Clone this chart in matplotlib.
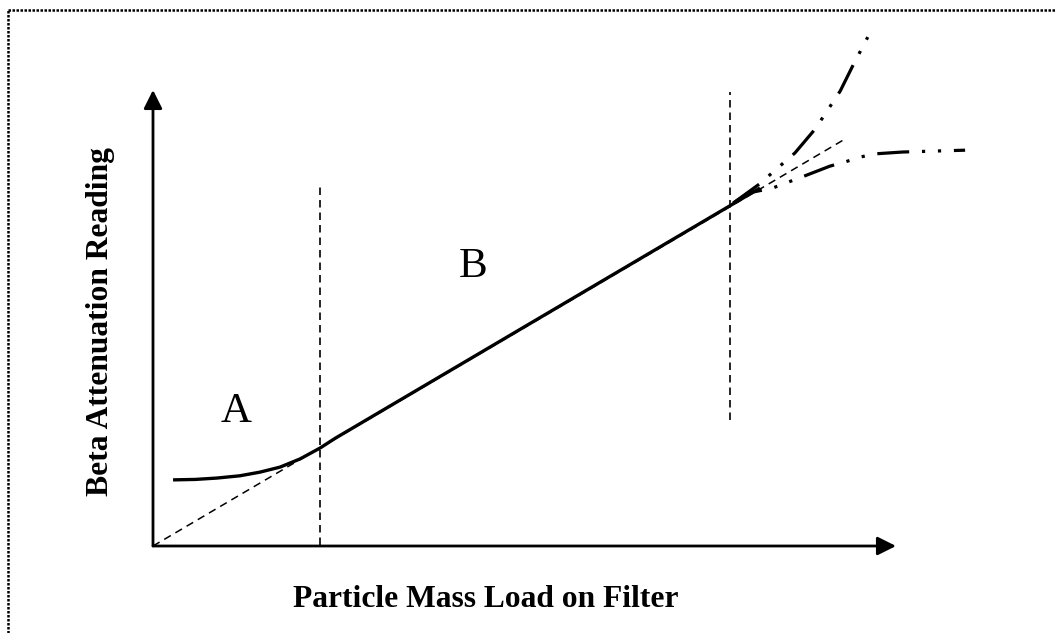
import matplotlib
matplotlib.use("Agg")
import matplotlib.pyplot as plt
from matplotlib.lines import Line2D

plt.rcParams['font.family'] = ['Liberation Serif', 'DejaVu Serif']

# schematic data (arbitrary units: x = mass load, y = beta reading)
ideal_x = [0.0, 9.34]
ideal_y = [0.0, 8.95]

meas_x = [0.27, 0.57, 0.86, 1.17, 1.44, 1.71, 1.98, 2.25, 2.45, 8.17]
meas_y = [1.45, 1.46, 1.49, 1.54, 1.62, 1.73, 1.91, 2.15, 2.36, 7.85]

up_x = [7.81, 8.18, 8.33, 8.64, 8.91, 9.02, 9.25, 9.43, 9.62]
up_y = [7.52, 7.96, 8.18, 8.62, 9.14, 9.41, 9.98, 10.57, 11.16]

low_x = [7.81, 8.01, 8.34, 8.55, 8.73, 9.11, 9.31, 9.52, 9.72, 10.09, 10.50, 10.93]
low_y = [7.52, 7.74, 7.85, 7.98, 8.09, 8.33, 8.42, 8.53, 8.60, 8.64, 8.66, 8.68]

bound_x = [2.25, 7.77]
bound_lo = [0.02, 2.76]
bound_hi = [7.92, 9.96]

region_lbl = ['A', 'B']
region_x = [1.12, 4.31]
region_y = [2.72, 5.90]

W, H = 1056, 633
fig = plt.figure(figsize=(W / 100, H / 100), dpi=100)
# origin at pixel (153, 546), x tip at 896, y tip at 90
ax = fig.add_axes([153 / W, (H - 546) / H, (896 - 153) / W, (546 - 90) / H])
ax.set_xlim(0, 10)
ax.set_ylim(0, 10)
ax.axis('off')

# axes arrows
arr = dict(arrowstyle='-|>', color='black', lw=2, mutation_scale=28, shrinkA=0, shrinkB=0)
ax.annotate('', xy=(10, 0), xytext=(0, 0), arrowprops=arr, annotation_clip=False)
ax.annotate('', xy=(0, 10), xytext=(0, 0), arrowprops=arr, annotation_clip=False)

ax.plot(ideal_x, ideal_y, color='black', lw=1.1, linestyle=(0, (5, 3.5)), clip_on=False)
ax.plot(meas_x, meas_y, color='black', lw=2.4, solid_capstyle='butt',
        solid_joinstyle='round', clip_on=False)

ddd = (0, (10, 4, 1, 4, 1, 4))
ax.plot(up_x, up_y, color='black', lw=2.3, linestyle=ddd, dash_capstyle='butt', clip_on=False)
ax.plot(low_x, low_y, color='black', lw=2.3, linestyle=ddd, dash_capstyle='butt', clip_on=False)

for i in range(len(bound_x)):
    ax.plot([bound_x[i], bound_x[i]], [bound_lo[i], bound_hi[i]], color='black',
            lw=1.2, linestyle=(0, (4.5, 3)), clip_on=False)

for i in range(len(region_lbl)):
    ax.text(region_x[i], region_y[i], region_lbl[i], fontsize=31, ha='center', va='baseline')

fig.text(486 / W, 1 - 607 / H, 'Particle Mass Load on Filter', fontsize=22.7,
         fontweight='bold', ha='center', va='baseline')
fig.text(101 / W, 1 - 322 / H, 'Beta Attenuation Reading', fontsize=22.7,
         fontweight='bold', ha='center', va='center', rotation=90)

# dotted frame (top and left edges visible)
fig.add_artist(Line2D([8 / W, 1.0], [1 - 10 / H, 1 - 10 / H], transform=fig.transFigure,
                      color='black', lw=1.8, linestyle=(0, (1, 0.6))))
fig.add_artist(Line2D([8 / W, 8 / W], [0.0, 1 - 10 / H], transform=fig.transFigure,
                      color='black', lw=1.8, linestyle=(0, (1, 0.6))))

fig.savefig('out.png', dpi=100)
